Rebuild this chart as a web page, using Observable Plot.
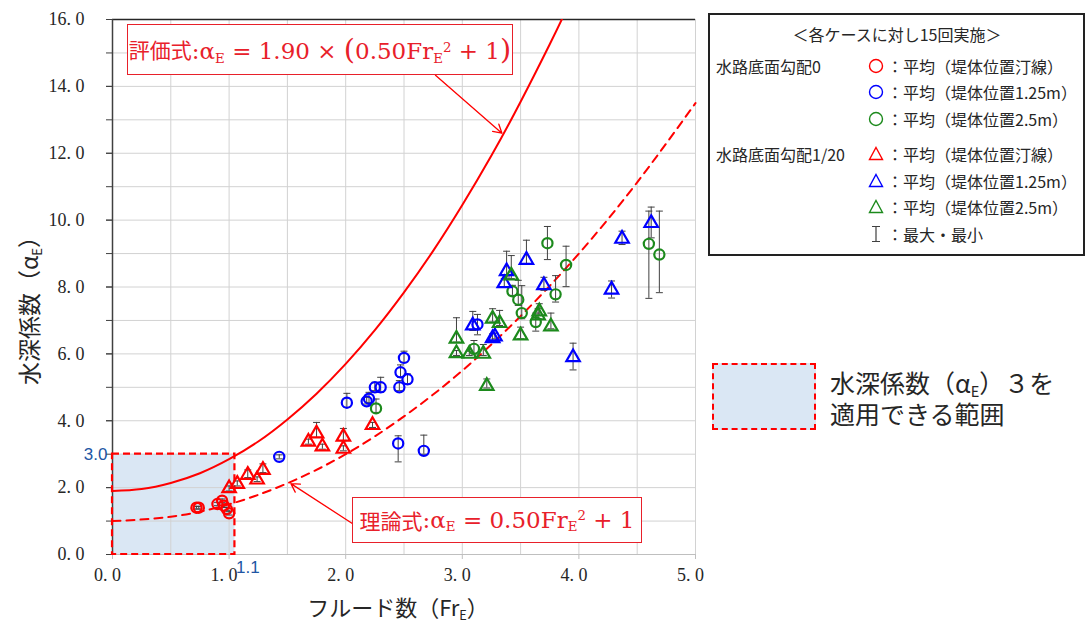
<!DOCTYPE html>
<html><head><meta charset="utf-8">
<script src="https://cdn.jsdelivr.net/npm/d3@7"></script>
<script src="https://cdn.jsdelivr.net/npm/@observablehq/plot@0.6"></script>
<style>
html,body{margin:0;padding:0;background:#fff;}
#wrap{position:relative;width:1087px;height:626px;overflow:hidden;font-family:"Noto Sans CJK JP",sans-serif;color:#262626;}
#wrap > svg{position:absolute;left:0;top:0;}
.t{position:absolute;white-space:nowrap;line-height:1;}
.eq{position:absolute;border:1.5px solid #e8202a;color:#e8202a;background:#fff;box-sizing:border-box;display:flex;align-items:center;justify-content:center;white-space:nowrap;line-height:1;}
.jp{font-family:"Noto Sans CJK JP",sans-serif;}
.m{font-family:"DejaVu Serif","Liberation Serif",serif;}
sub{font-size:58%;vertical-align:baseline;position:relative;top:0.28em;line-height:0;}
sup{font-size:58%;vertical-align:baseline;position:relative;top:-0.55em;line-height:0;}
.big{font-size:125%;}
</style></head><body><div id="wrap"></div>
<script>
// ---- axes ----
const frTicks = [0, 1, 2, 3, 4, 5];
const frGrid = [0.5, 1, 1.5, 2, 2.5, 3, 3.5, 4, 4.5, 5];
const aTicks = [0, 2, 4, 6, 8, 10, 12, 14, 16];
const aMinor = [0,1,2,3,4,5,6,7,8,9,10,11,12,13,14,15,16];
const aGrid = [1,2,3,4,5,6,7,8,9,10,11,12,13,14,15,16];

// ---- curves ----
const evalFr = [0, 0.25, 0.5, 0.75, 1, 1.25, 1.5, 1.75, 2, 2.25, 2.5, 2.75, 3, 3.25, 3.5, 3.75, 3.86];
const evalA  = [1.90, 1.96, 2.14, 2.43, 2.85, 3.38, 4.04, 4.81, 5.70, 6.71, 7.84, 9.08, 10.45, 11.93, 13.54, 15.26, 16.05];
const theoryFr = [0, 0.5, 1, 1.5, 2, 2.5, 3, 3.5, 4, 4.5, 5];
const theoryA  = [1.00, 1.13, 1.50, 2.13, 3.00, 4.13, 5.50, 7.13, 9.00, 11.13, 13.50];

// ---- range box ----
const rangeFr = [0, 1.05];
const rangeA = [0, 3.0];
const rangeLabels = ["3.0", "1.1"];

// ---- measurements [Fr, mean, min, max] ----
const s0_shore = [[0.72,1.40,1.36,1.44],[0.74,1.40,1.36,1.44],[0.90,1.51,1.46,1.56],[0.94,1.61,1.56,1.66],[0.955,1.46,1.41,1.51],[0.98,1.36,1.31,1.41],[1.00,1.23,1.18,1.28]];
const s0_125 = [[1.43,2.92,2.86,2.98],[2.01,4.54,4.40,4.82],[2.18,4.58,4.50,4.70],[2.20,4.66,4.55,4.85],[2.25,5.00,4.90,5.15],[2.30,5.00,4.85,5.30],[2.46,5.00,4.90,5.20],[2.47,5.45,5.30,5.67],[2.50,5.88,5.75,6.08],[2.53,5.24,5.10,5.40],[2.45,3.32,2.77,3.55],[2.67,3.10,3.00,3.57],[3.13,6.88,6.57,7.18]];
const s0_25 = [[2.26,4.37,4.25,4.65],[3.10,6.15,6.00,6.40],[3.43,7.87,7.75,8.05],[3.48,7.62,7.45,8.20],[3.51,7.22,7.05,8.04],[3.63,6.95,6.68,7.22],[3.73,9.31,8.82,9.81],[3.80,7.78,7.55,8.34],[3.89,8.66,8.01,9.22],[4.60,9.29,7.66,10.27],[4.69,8.97,7.83,10.27]];
const s20_shore = [[1.00,1.98,1.90,2.05],[1.07,2.11,2.05,2.20],[1.16,2.38,2.30,2.53],[1.24,2.24,2.18,2.32],[1.29,2.53,2.45,2.71],[1.68,3.37,3.30,3.45],[1.75,3.62,3.50,3.95],[1.80,3.23,3.15,3.30],[1.98,3.52,3.40,3.77],[1.98,3.16,3.10,3.25],[2.23,3.87,3.80,3.95]];
const s20_125 = [[3.09,6.85,6.70,7.27],[3.26,6.47,6.40,6.60],[3.28,6.52,6.45,6.62],[3.36,8.11,8.00,8.25],[3.38,8.47,8.30,9.07],[3.55,8.81,8.70,9.40],[3.70,8.05,7.90,8.29],[3.95,5.90,5.52,6.32],[4.28,7.92,7.67,8.18],[4.37,9.44,9.27,9.67],[4.62,9.91,9.47,10.39]];
const s20_25 = [[2.95,6.45,6.35,7.08],[2.95,6.02,5.95,6.10],[3.06,6.00,5.95,6.08],[3.18,6.00,5.95,6.28],[3.21,5.04,4.98,5.25],[3.26,7.05,6.95,7.35],[3.32,6.92,6.85,7.30],[3.42,8.34,8.25,8.94],[3.50,6.55,6.45,6.80],[3.65,7.15,7.05,7.35],[3.66,7.27,7.15,7.50],[3.76,6.82,6.75,7.22]];

// ---- annotation arrows [Fr, alpha] ----
const arrowFrom = [[2.77, 14.33], [2.06, 0.92]];
const arrowTo   = [[3.34, 12.60], [1.53, 2.12]];

// ---- legend text ----
const legendTitle = "＜各ケースに対し15回実施＞";
const groupLabels = ["水路底面勾配0", "水路底面勾配1/20"];
const itemLabels = ["：平均（堤体位置汀線）", "：平均（堤体位置1.25m）", "：平均（堤体位置2.5m）"];
const errLabel = "：最大・最小";
const rangeText = ["水深係数（α<sub>E</sub>）３を", "適用できる範囲"];

const RED = "#ff0000", BLUE = "#0000ff", GREEN = "#1c8a1c", BLUE_T = "#2155a3";
const seriesStyle = [
  {data: s0_shore, color: RED, symbol: "circle"},
  {data: s0_125, color: BLUE, symbol: "circle"},
  {data: s0_25, color: GREEN, symbol: "circle"},
  {data: s20_shore, color: RED, symbol: "triangle"},
  {data: s20_125, color: BLUE, symbol: "triangle"},
  {data: s20_25, color: GREEN, symbol: "triangle"}
];
const allPts = seriesStyle.flatMap(s => s.data);
const capSymbol = {draw(ctx, size) { const w = Math.sqrt(size / Math.PI); ctx.moveTo(-w, 0); ctx.lineTo(w, 0); }};
const fmt = d => d.toFixed(1).replace(".", ". ");

const plot = Plot.plot({
  width: 1087, height: 626,
  marginLeft: 112, marginRight: 392, marginTop: 19, marginBottom: 72,
  x: {domain: [0, 5]},
  y: {domain: [0, 16]},
  style: {fontFamily: "'Liberation Serif', serif", fontSize: "18px", background: "transparent", color: "#262626", overflow: "visible"},
  marks: [
    Plot.rect([0], {x1: rangeFr[0], x2: rangeFr[1], y1: rangeA[0], y2: rangeA[1], fill: "#dae7f4"}),
    Plot.gridX(frGrid, {stroke: "#d2d2d2", strokeOpacity: 1}),
    Plot.gridY(aGrid, {stroke: "#d2d2d2", strokeOpacity: 1}),
    Plot.ruleY([0], {stroke: "#bfbfbf"}),
    Plot.ruleY([16], {stroke: "#262626", strokeWidth: 1.5}),
    Plot.ruleX([0], {stroke: "#404040", strokeWidth: 1.5}),
    Plot.axisY(aMinor, {tickSize: 6, tickFormat: () => "", stroke: "#404040", label: null}),
    Plot.axisY(aTicks, {tickSize: 6, tickPadding: 22, tickFormat: fmt, stroke: "#404040", fill: "#262626", label: null}),
    Plot.axisX(frTicks, {tickSize: 5, tickFormat: () => "", stroke: "#bfbfbf", label: null}),
    Plot.axisX(frTicks, {tickSize: 0, tickPadding: 14, dx: -5, tickFormat: fmt, fill: "#262626", label: null}),
    Plot.rect([0], {x1: rangeFr[0], x2: rangeFr[1], y1: rangeA[0], y2: rangeA[1], fill: "none", stroke: RED, strokeWidth: 2.2, strokeDasharray: "7,4"}),
    Plot.text([rangeLabels[0]], {x: rangeFr[0], y: rangeA[1], text: d => d, dx: -5, textAnchor: "end", fill: BLUE_T, fontFamily: "'Liberation Sans', Arial, sans-serif", fontSize: 17}),
    Plot.text([rangeLabels[1]], {x: 1.1, y: 0, text: d => d, dx: 7, dy: 13, textAnchor: "middle", fill: BLUE_T, fontFamily: "'Liberation Sans', Arial, sans-serif", fontSize: 17}),
    Plot.line(theoryFr.map((f, i) => [f, theoryA[i]]), {x: d => d[0], y: d => d[1], stroke: RED, strokeWidth: 2, strokeDasharray: "8,6", curve: "natural"}),
    Plot.line(evalFr.map((f, i) => [f, evalA[i]]), {x: d => d[0], y: d => d[1], stroke: RED, strokeWidth: 2, curve: "natural", clip: true}),
    Plot.ruleX(allPts, {x: d => d[0], y1: d => d[2], y2: d => d[3], stroke: "#404040", strokeWidth: 1}),
    Plot.dot(allPts, {x: d => d[0], y: d => d[3], symbol: capSymbol, r: 3.5, stroke: "#404040", strokeWidth: 1}),
    Plot.dot(allPts, {x: d => d[0], y: d => d[2], symbol: capSymbol, r: 3.5, stroke: "#404040", strokeWidth: 1}),
    ...seriesStyle.map(s => Plot.dot(s.data, {x: d => d[0], y: d => d[1], symbol: s.symbol, r: s.symbol === "circle" ? 5.1 : 5.0, stroke: s.color, strokeWidth: 2.2, fill: "none"})),
    Plot.arrow(arrowFrom.map((f, i) => [f, arrowTo[i]]), {x1: d => d[0][0], y1: d => d[0][1], x2: d => d[1][0], y2: d => d[1][1], stroke: RED, strokeWidth: 1.3, headLength: 11})
  ]
});
const wrap = document.getElementById("wrap");
wrap.appendChild(plot);

function addText(x, y, html, style) {
  const d = document.createElement("div");
  d.className = "t";
  d.innerHTML = html;
  d.style.left = x + "px";
  d.style.top = y + "px";
  Object.assign(d.style, style || {});
  wrap.appendChild(d);
  return d;
}
// axis titles
addText(398, 606, "フルード数（Fr<sub>E</sub>）", {transform: "translate(-50%,-50%)", fontSize: "22px"});
addText(28, 305, "水深係数（α<sub>E</sub>）", {transform: "translate(-50%,-50%) rotate(-90deg)", fontSize: "23px"});

// equation boxes
function addEq(x, y, w, h, html) {
  const d = document.createElement("div");
  d.className = "eq";
  Object.assign(d.style, {left: x + "px", top: y + "px", width: w + "px", height: h + "px"});
  d.innerHTML = html;
  wrap.appendChild(d);
}
addEq(127, 24, 386, 51, '<span class="jp" style="font-size:21px">評価式</span><span class="m" style="font-size:23px">:α<sub>E</sub> = 1.90 × <span class="big">(</span>0.50Fr<sub>E</sub><sup>2</sup> + 1<span class="big">)</span></span>');
addEq(352, 497, 290, 46, '<span class="jp" style="font-size:21px">理論式</span><span class="m" style="font-size:23px">:α<sub>E</sub> = 0.50Fr<sub>E</sub><sup>2</sup> + 1</span>');

// legend box
const lg = document.createElement("div");
Object.assign(lg.style, {position: "absolute", left: "708px", top: "13px", width: "377px", height: "243px", border: "2px solid #222", boxSizing: "border-box", background: "#fff"});
wrap.appendChild(lg);
addText(897, 34, legendTitle, {transform: "translate(-50%,-50%)", fontSize: "16px"});
const rowY = [66, 92, 119, 154, 181, 207, 234];
addText(716, rowY[0], groupLabels[0], {transform: "translateY(-50%)", fontSize: "16px"});
addText(716, rowY[3], groupLabels[1], {transform: "translateY(-50%)", fontSize: "16px"});
const legCols = [RED, BLUE, GREEN];
function markerSvg(sym, color) {
  if (sym === "circle") return `<svg width="18" height="18" style="display:block"><circle cx="9" cy="9" r="6.5" fill="none" stroke="${color}" stroke-width="1.4"/></svg>`;
  if (sym === "triangle") return `<svg width="18" height="18" style="display:block"><path d="M9,2.5 L15.5,14.5 L2.5,14.5 Z" fill="none" stroke="${color}" stroke-width="1.4"/></svg>`;
  return `<svg width="18" height="18" style="display:block"><path d="M5,1.5 H13 M9,1.5 V16.5 M5,16.5 H13" fill="none" stroke="#404040" stroke-width="1.2"/></svg>`;
}
for (let g = 0; g < 2; g++) {
  for (let i = 0; i < 3; i++) {
    const y = rowY[g * 3 + i];
    addText(867, y - 9, markerSvg(g === 0 ? "circle" : "triangle", legCols[i]), {});
    addText(887, y, itemLabels[i], {transform: "translateY(-50%)", fontSize: "16px"});
  }
}
addText(867, rowY[6] - 9, markerSvg("err"), {});
addText(887, rowY[6], errLabel, {transform: "translateY(-50%)", fontSize: "16px"});

// range legend
const rg = document.createElement("div");
Object.assign(rg.style, {position: "absolute", left: "712px", top: "363px", width: "104px", height: "67px", border: "2px dashed #ff0000", boxSizing: "border-box", background: "#dae7f4"});
wrap.appendChild(rg);
addText(830, 398, rangeText.join("<br>"), {transform: "translateY(-50%)", fontSize: "25px", lineHeight: "31px"});
</script></body></html>
